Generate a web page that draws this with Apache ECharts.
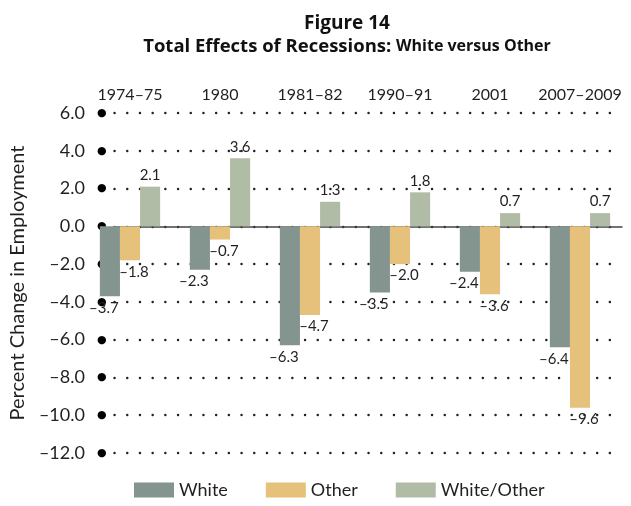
<!DOCTYPE html>
<html>
<head>
<meta charset="utf-8">
<script src="https://cdn.jsdelivr.net/npm/echarts@6/dist/echarts.min.js"></script>
<style>
html,body{margin:0;padding:0;background:#fff;}
#chart{width:631px;height:506px;}
</style>
</head>
<body>
<div id="chart"></div>
<script>
const categories = ['1974–75', '1980', '1981–82', '1990–91', '2001', '2007–2009'];
const whiteValues = [-3.7, -2.3, -6.3, -3.5, -2.4, -6.4];
const otherValues = [-1.8, -0.7, -4.7, -2.0, -3.6, -9.6];
const ratioValues = [2.1, 3.6, 1.3, 1.8, 0.7, 0.7];
const seriesNames = ['White', 'Other', 'White/Other'];
const colors = ['#84948f', '#e6c17b', '#b1bca7'];
const yMin = -12, yMax = 6, yStep = 2;

const fmt = v => v.toFixed(1).replace('-', '–');
const textColor = '#231f20';
const baseFont = 'Lato, "Open Sans", sans-serif';

function makeSeries(name, values, color, offset) {
  return {
    name: name,
    type: 'bar',
    xAxisIndex: 0,
    yAxisIndex: 0,
    barGap: '0%',
    barCategoryGap: '33%',
    itemStyle: { color: color },
    label: {
      show: true,
      position: 'outside',
      distance: 4,
      offset: offset,
      color: textColor,
      fontFamily: baseFont,
      fontSize: 15,
      formatter: p => fmt(p.value)
    },
    data: values
  };
}

const chart = echarts.init(document.getElementById('chart'), null, { renderer: 'canvas' });
chart.setOption({
  animation: false,
  backgroundColor: '#fff',
  title: {
    left: 342,
    textAlign: 'center',
    top: 7,
    text: '{a|Figure 14}\n{b|Total Effects of Recessions: }{c|White versus Other}',
    textStyle: {
      rich: {
        a: { fontFamily: '"Open Sans", sans-serif', fontWeight: 'bold', fontSize: 19, color: '#111', lineHeight: 23, align: 'center' },
        b: { fontFamily: '"Open Sans", sans-serif', fontWeight: 'bold', fontSize: 18.5, color: '#111', lineHeight: 23 },
        c: { fontFamily: '"Open Sans", sans-serif', fontWeight: 'bold', fontSize: 16, color: '#111', lineHeight: 23 }
      }
    }
  },
  legend: {
    bottom: 2,
    left: 129,
    itemWidth: 40,
    itemHeight: 15,
    itemGap: 38,
    textStyle: { fontFamily: baseFont, fontSize: 18, color: textColor },
    data: seriesNames.map(n => ({ name: n, icon: 'rect' }))
  },
  grid: [
    { left: 85, right: 6, top: 113, bottom: 53 },
    { left: 100, right: 9, top: 113, bottom: 53 }
  ],
  xAxis: [
    {
      type: 'category',
      gridIndex: 0,
      position: 'top',
      data: categories,
      axisLine: { show: false },
      axisTick: { show: false },
      axisLabel: { interval: 0, hideOverlap: false, margin: 10, fontFamily: baseFont, fontSize: 16, color: textColor }
    },
    {
      type: 'category',
      gridIndex: 1,
      data: [''],
      axisLine: { show: true, onZero: true, lineStyle: { color: '#444', width: 1.5 } },
      axisTick: { show: false },
      axisLabel: { show: false }
    }
  ],
  yAxis: [
    {
      type: 'value', gridIndex: 0, min: yMin, max: yMax, interval: yStep, show: false
    },
    {
      type: 'value', gridIndex: 1, min: yMin, max: yMax, interval: yStep,
      name: 'Percent Change in Employment',
      nameLocation: 'middle',
      nameGap: 69,
      nameTextStyle: { fontFamily: baseFont, fontSize: 20, color: textColor },
      axisLine: { show: false },
      axisTick: { show: false },
      axisLabel: {
        margin: 8,
        formatter: v => '{v|' + fmt(v) + '}{d|●}',
        rich: {
          v: { fontFamily: baseFont, fontSize: 18, color: textColor, padding: [0, 12, 0, 0] },
          d: { fontFamily: '"DejaVu Sans"', fontSize: 11, color: '#000' }
        }
      },
      splitLine: {
        show: true,
        lineStyle: { color: '#222', width: 2.4, type: [0.1, 12.6], cap: 'round' }
      }
    }
  ],
  series: [
    makeSeries(seriesNames[0], whiteValues, colors[0], [-6, 0]),
    makeSeries(seriesNames[1], otherValues, colors[1], [4, 0]),
    makeSeries(seriesNames[2], ratioValues, colors[2], [0, 0])
  ]
});
</script>
</body>
</html>
